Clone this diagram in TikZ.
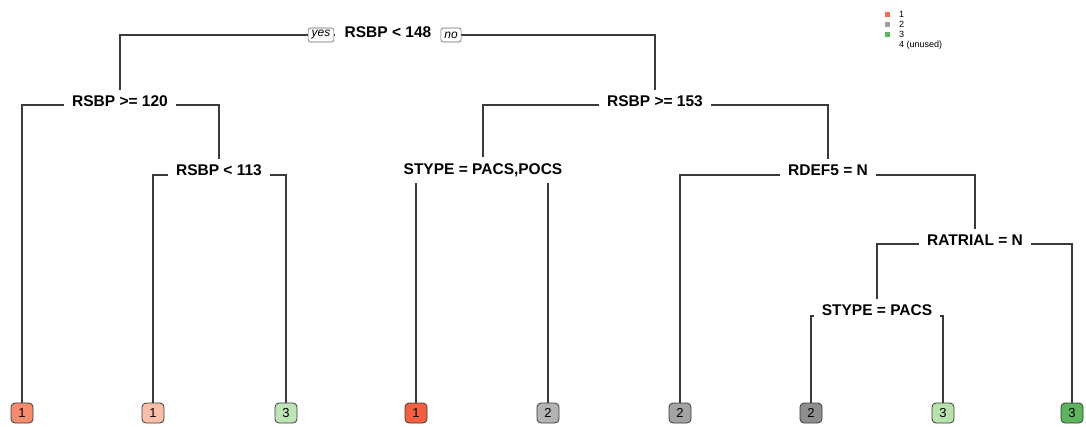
\documentclass[tikz,border=0pt]{standalone}
\usepackage{fontspec}
\setmainfont{Liberation Sans}
\usepackage{tikz}
\usepackage{color}

% leaf colours
\definecolor{lfA}{HTML}{F68B6E}
\definecolor{lfB}{HTML}{F9BEA7}
\definecolor{lfC}{HTML}{BDE5B5}
\definecolor{lfD}{HTML}{F2603F}
\definecolor{lfE}{HTML}{B3B3B3}
\definecolor{lfF}{HTML}{A3A3A3}
\definecolor{lfG}{HTML}{8E8E8E}
\definecolor{lfH}{HTML}{B7E2AC}
\definecolor{lfI}{HTML}{5DB45F}
% legend colours
\definecolor{keyA}{HTML}{F36D4F}
\definecolor{keyB}{HTML}{9E9E9E}
\definecolor{keyC}{HTML}{5CB85C}
\definecolor{branch}{HTML}{3A3A3A}

\begin{document}
\begin{tikzpicture}[x=1pt,y=-1pt,
    split/.style={fill=white,inner xsep=8pt,inner ysep=6pt,font=\fontsize{15.5}{18}\selectfont\bfseries},
    leaf/.style={draw=branch,line width=0.8pt,rounded corners=4pt,minimum width=22pt,minimum height=20pt,inner sep=0pt,font=\fontsize{13}{15}\selectfont},
    yn/.style={draw=black!60,line width=0.6pt,fill=white,rounded corners=2.5pt,inner xsep=3.5pt,inner ysep=1pt,minimum height=14pt,font=\fontsize{12}{13}\selectfont\itshape},
    edge/.style={draw=branch,line width=1.1pt},
    keybox/.style={minimum size=5pt,inner sep=0pt},
    keytxt/.style={anchor=west,inner sep=0pt,font=\fontsize{9}{10}\selectfont}]

    \useasboundingbox (0,0) rectangle (1086,426);

    % split points
    \coordinate (r0) at (388,35);
    \coordinate (r1) at (120,105);
    \coordinate (r2) at (655,105);
    \coordinate (r3) at (219,175);
    \coordinate (r4) at (483,175);
    \coordinate (r5) at (828,175);
    \coordinate (r6) at (975,244);
    \coordinate (r7) at (877,316);

    % leaves
    \node[leaf,fill=lfA] (l1) at (22,413) {1};
    \node[leaf,fill=lfB] (l2) at (153,413) {1};
    \node[leaf,fill=lfC] (l3) at (286,413) {3};
    \node[leaf,fill=lfD] (l4) at (416,413) {1};
    \node[leaf,fill=lfE] (l5) at (548,413) {2};
    \node[leaf,fill=lfF] (l6) at (680,413) {2};
    \node[leaf,fill=lfG] (l7) at (811,413) {2};
    \node[leaf,fill=lfH] (l8) at (943,413) {3};
    \node[leaf,fill=lfI] (l9) at (1072,413) {3};

    % branches
    \draw[edge] (r0) -| (r1);
    \draw[edge] (r0) -| (r2);
    \draw[edge] (r1) -| (l1.north);
    \draw[edge] (r1) -| (r3);
    \draw[edge] (r3) -| (l2.north);
    \draw[edge] (r3) -| (l3.north);
    \draw[edge] (r2) -| (r4);
    \draw[edge] (r2) -| (r5);
    \draw[edge] (r4) -| (l4.north);
    \draw[edge] (r4) -| (l5.north);
    \draw[edge] (r5) -| (l6.north);
    \draw[edge] (r5) -| (r6);
    \draw[edge] (r6) -| (r7);
    \draw[edge] (r6) -| (l9.north);
    \draw[edge] (r7) -| (l7.north);
    \draw[edge] (r7) -| (l8.north);

    % split labels
    \node[split,inner xsep=10pt] (n0) at (388,32) {RSBP < 148};
    \node[yn] (yes) at (321,35) {yes};
    \node[yn] (no) at (451,35) {no};
    \node[split] (n1) at (120,101) {RSBP >= 120};
    \node[split] (n2) at (655,101) {RSBP >= 153};
    \node[split] (n3) at (219,170) {RSBP < 113};
    \node[split] (n4) at (483,170) {STYPE = PACS,POCS};
    \node[split] (n5) at (828,170) {RDEF5 = N};
    \node[split] (n6) at (975,240) {RATRIAL = N};
    \node[split] (n7) at (877,310) {STYPE = PACS};

    % legend
    \node[keybox,fill=keyA] (kb1) at (887,14) {};
    \node[keybox,fill=keyB] (kb2) at (887,24) {};
    \node[keybox,fill=keyC] (kb3) at (887,34) {};
    \node[keytxt] (kt1) at (899,14) {1};
    \node[keytxt] (kt2) at (899,24) {2};
    \node[keytxt] (kt3) at (899,34) {3};
    \node[keytxt] (kt4) at (899,45) {4 (unused)};
\end{tikzpicture}
\end{document}
